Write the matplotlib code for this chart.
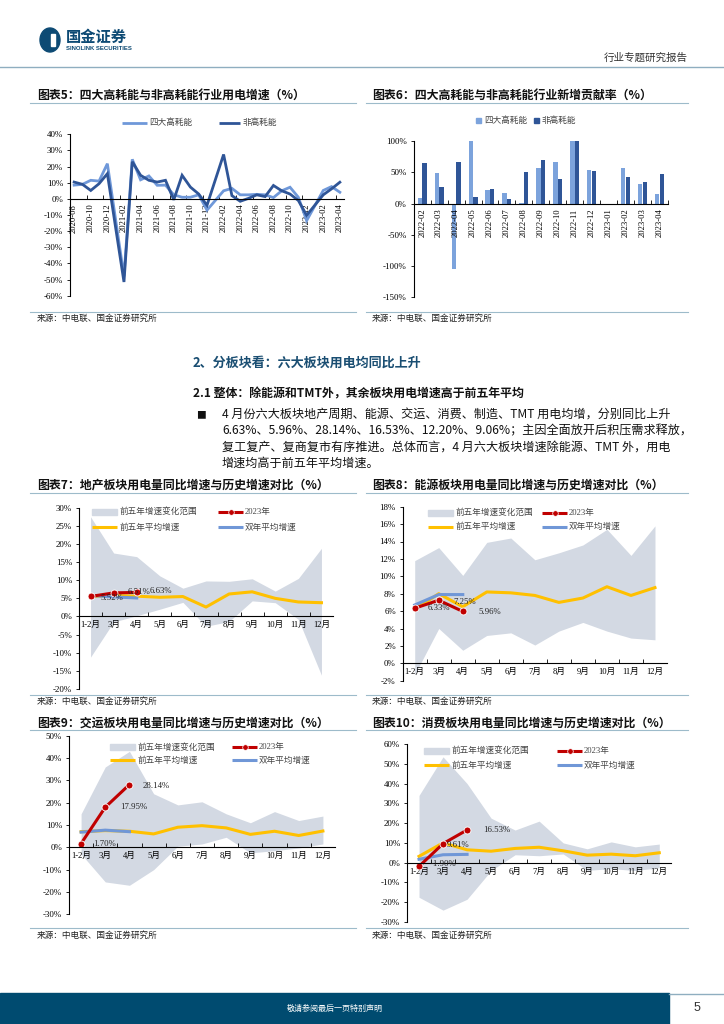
import matplotlib.pyplot as plt
import numpy as np
import pandas as pd
from matplotlib.lines import Line2D
from matplotlib.patches import Rectangle, Ellipse

plt.rcParams['font.family'] = ['Liberation Serif', 'Noto Sans CJK SC']
plt.rcParams['axes.unicode_minus'] = False
CJK = ['Noto Sans CJK SC', 'DejaVu Sans']

nan = np.nan

# ---------------- data ----------------
# 图表5: monthly growth (%), 2020-08 .. 2023-04 (Jan merged into Feb -> blank)
months5 = list(pd.period_range('2020-08', '2023-04', freq='M').strftime('%Y-%m'))
high5 = [8.5, 9.0, 11.5, 11.0, 21.8, nan, -48.0, 24.5, 11.8, 14.2, 8.4, 8.5, 2.5, 1.0, 1.0, 2.5, -7.0,
         nan, 5.0, 6.5, 2.5, 2.5, 2.8, 2.5, 0.8, 5.0, 7.2, 1.0, -13.5, nan, 5.2, 7.6, 4.1]
non5 = [10.4, 9.0, 5.2, 9.4, 15.6, nan, -51.5, 23.0, 14.6, 11.5, 10.4, 11.5, -0.6, 14.6, 7.3, 3.0, -4.0,
        nan, 27.5, 2.0, -1.5, 0.3, 2.5, 1.4, 8.3, 5.0, 3.0, -1.0, -10.2, nan, 2.5, 6.2, 10.3]

# 图表6: contribution rate (%)
cats6 = ['2022-02', '2022-03', '2022-04', '2022-05', '2022-06', '2022-07', '2022-08', '2022-09',
         '2022-10', '2022-11', '2022-12', '2023-01', '2023-02', '2023-03', '2023-04']
high6 = [9, 49, -105, 100, 22, 17, 1, 58, 67, 100, 54, nan, 58, 31, 16]
non6 = [65, 26, 67, 11, 23, 7.5, 50, 70, 40, 100, 52, nan, 42, 35, 48]

months = ['1-2月', '3月', '4月', '5月', '6月', '7月', '8月', '9月', '10月', '11月', '12月']

# 图表7 地产
hi7 = [27.5, 17.5, 16.5, 11.2, 7.8, 9.8, 9.7, 10.4, 7.0, 10.5, 18.8]
lo7 = [-11.2, -1.5, 0.2, 2.0, 3.9, -2.7, -1.4, 4.3, 3.8, -0.8, -16.2]
avg7 = [5.5, 5.8, 5.6, 5.3, 5.5, 2.6, 6.2, 6.8, 5.0, 4.0, 3.8]
cur7 = [5.52, 6.51, 6.63]
two7 = [5.8, 5.4, 5.1]

# 图表8 能源
hi8 = [11.8, 13.3, 10.1, 13.9, 14.4, 11.9, 12.7, 13.6, 15.4, 12.4, 15.8]
lo8 = [-1.3, 4.0, 1.5, 3.2, 3.5, 2.1, 3.7, 4.7, 3.7, 2.9, 2.7]
avg8 = [6.2, 8.0, 6.5, 8.2, 8.1, 7.8, 7.0, 7.5, 8.8, 7.8, 8.7]
cur8 = [6.33, 7.25, 5.96]
two8 = [6.7, 7.9, 7.9]

# 图表9 交运
hi9 = [15, 36, 43, 24, 19, 20.4, 15, 11, 16, 12, 14]
lo9 = [-3, -15.5, -17, -10, 0.5, 1.5, 4.5, -2.5, -1.5, -0.3, 1.5]
avg9 = [7.0, 7.5, 7.2, 6.0, 9.0, 9.7, 8.7, 5.8, 7.2, 5.3, 7.3]
cur9 = [1.70, 17.95, 28.14]
two9 = [6.8, 7.7, 7.0]

# 图表10 消费
hi10 = [34, 53.5, 40, 22.5, 16.5, 21, 10, 7, 10.5, 8, 9.4]
lo10 = [-17.5, -24, -18.5, -4, 4, 3.5, 4.4, -3.9, -3, -4, -2.5]
avg10 = [3.2, 10.0, 6.5, 5.8, 7.2, 7.8, 6.0, 3.8, 4.3, 3.5, 5.0]
cur10 = [-1.90, 9.61, 16.53]
two10 = [1.7, 4.0, 4.2]

# ---------------- figure ----------------
W, H = 724, 1024
fig = plt.figure(figsize=(7.24, 10.24), dpi=100)

NAVY = '#0D4A74'
RULE = '#9DBBCA'
LIGHT = '#6F98D9'
DARK = '#2F5597'
BAND = '#D3D9E3'
YEL = '#FFC000'
RED = '#C00000'
BLUE2 = '#7097D7'


def fx(x):
    return x / W


def fy(y):
    return 1 - y / H


def add_ax(l, t, r, b):
    return fig.add_axes([fx(l), fy(b), (r - l) / W, (b - t) / H])


def txt(x, y, s, **kw):
    kw.setdefault('family', CJK)
    kw.setdefault('va', 'center')
    fig.text(fx(x), fy(y), s, **kw)


def hline(x0, x1, y, color=RULE, lw=0.8):
    fig.add_artist(Line2D([fx(x0), fx(x1)], [fy(y), fy(y)], color=color, lw=lw))


def leg_line(x0, x1, y, color, lw=2.2, marker=False):
    fig.add_artist(Line2D([fx(x0), fx(x1)], [fy(y), fy(y)], color=color, lw=lw, solid_capstyle='butt'))
    if marker:
        fig.add_artist(Line2D([fx((x0 + x1) / 2)], [fy(y)], marker='o', ms=4, color=color,
                              mec='white', mew=0.5))


def leg_box(x0, x1, y, h, color):
    fig.add_artist(Rectangle((fx(x0), fy(y + h / 2)), (x1 - x0) / W, h / H, color=color,
                             transform=fig.transFigure))


def style_axis(ax, ylo, yhi, step):
    ax.set_ylim(ylo, yhi)
    ax.set_yticks(np.arange(ylo, yhi + step / 2, step))
    ax.yaxis.set_major_formatter(lambda v, p: f'{v:.0f}%')
    for s in ['top', 'right']:
        ax.spines[s].set_visible(False)
    ax.spines['bottom'].set_position(('data', 0))
    ax.spines['left'].set_linewidth(0.8)
    ax.spines['bottom'].set_linewidth(0.8)
    ax.tick_params(axis='y', labelsize=6.4, length=2.5, width=0.6, pad=2.5)
    ax.tick_params(axis='x', which='major', length=0, labelsize=6.2, pad=3.5)
    ax.tick_params(axis='x', which='minor', length=3, width=0.6, direction='in')
    ax.patch.set_alpha(0)


# ---------------- header / footer ----------------
fig.add_artist(Ellipse((fx(50), fy(40)), 20 / W, 24 / H, color=NAVY, transform=fig.transFigure))
fig.add_artist(Rectangle((fx(51), fy(46)), 4 / W, 12 / H, color='white', transform=fig.transFigure))
txt(66, 37, '国金证券', fontsize=11, weight='bold', color=NAVY)
txt(66, 48, 'SINOLINK SECURITIES', fontsize=4.3, weight='bold', color=NAVY, family='Liberation Sans')
txt(688, 58, '行业专题研究报告', fontsize=7.6, color='#333333', ha='right')
hline(0, 724, 67, color='#8FAEC0', lw=1)

fig.add_artist(Rectangle((0, 0), fx(669), 31 / H, color='#004B70', transform=fig.transFigure))
hline(669, 724, 993.5, color='#8FAEC0', lw=1)
txt(335, 1008, '敬请参阅最后一页特别声明', fontsize=5.8, color='white', ha='center')
txt(697, 1008, '5', fontsize=9, color='#333333', ha='center', family='Liberation Sans')

# ---------------- titles / sources ----------------
titles = [(37, 95, '图表5：四大高耗能与非高耗能行业用电增速（%）'),
          (372, 95, '图表6：四大高耗能与非高耗能行业新增贡献率（%）'),
          (37, 485, '图表7：地产板块用电量同比增速与历史增速对比（%）'),
          (372, 485, '图表8：能源板块用电量同比增速与历史增速对比（%）'),
          (37, 723, '图表9：交运板块用电量同比增速与历史增速对比（%）'),
          (372, 723, '图表10：消费板块用电量同比增速与历史增速对比（%）')]
for x, y, s in titles:
    txt(x, y, s, fontsize=8.6, weight='bold', color='#111111')
for y in [103, 493, 730]:
    hline(30, 356, y)
    hline(366, 688, y)
for ly, ty in [(312, 318), (695, 701), (928, 935)]:
    hline(30, 356, ly)
    hline(366, 688, ly)
    txt(37, ty, '来源：中电联、国金证券研究所', fontsize=6.2, color='#222222')
    txt(372, ty, '来源：中电联、国金证券研究所', fontsize=6.2, color='#222222')

# ---------------- body text ----------------
txt(193, 363, '2、分板块看：六大板块用电均同比上升', fontsize=9.4, weight='bold', color='#1A4E72')
txt(193, 394, '2.1 整体：除能源和TMT外，其余板块用电增速高于前五年平均', fontsize=8.6, weight='bold',
    color='#111111')
txt(196, 415, '■', fontsize=7, color='#111111')
para = ['4 月份六大板块地产周期、能源、交运、消费、制造、TMT 用电均增，分别同比上升',
        '6.63%、5.96%、28.14%、16.53%、12.20%、9.06%；主因全面放开后积压需求释放，',
        '复工复产、复商复市有序推进。总体而言，4 月六大板块增速除能源、TMT 外，用电',
        '增速均高于前五年平均增速。']
for i, line in enumerate(para):
    txt(222, 415 + 16 * i, line, fontsize=8.7, color='#111111')

# ---------------- 图表5 ----------------
ax5 = add_ax(70, 134.3, 344, 295.7)
x5 = np.arange(len(months5))
for vals, col in [(high5, LIGHT), (non5, DARK)]:
    v = np.array(vals)
    m = ~np.isnan(v)
    ax5.plot(x5[m], v[m], color=col, lw=2.0, solid_joinstyle='miter')
ax5.set_xlim(-0.5, len(months5) - 0.5)
style_axis(ax5, -60, 40, 10)
ax5.set_xticks(x5[::2])
ax5.set_xticklabels(months5[::2], rotation=90)
ax5.set_xticks(np.arange(1.5, len(months5), 2), minor=True)
leg_line(121.7, 146.7, 122.7, LIGHT, lw=2.0)
txt(149.3, 122.7, '四大高耗能', fontsize=6.2, color='#444444')
leg_line(219, 240, 122.7, DARK, lw=2.0)
txt(242.7, 122.7, '非高耗能', fontsize=6.2, color='#444444')

# ---------------- 图表6 ----------------
ax6 = add_ax(413.7, 141.3, 668, 297.3)
x6 = np.arange(len(cats6))
ax6.bar(x6 - 0.14, high6, 0.25, color='#7CA3DC')
ax6.bar(x6 + 0.14, non6, 0.25, color=DARK)
ax6.set_xlim(-0.5, len(cats6) - 0.5)
style_axis(ax6, -150, 100, 50)
ax6.set_xticks(x6)
ax6.set_xticklabels(cats6, rotation=90)
ax6.set_xticks(np.arange(0.5, len(cats6), 1), minor=True)
leg_box(476, 481, 120.7, 5, '#7CA3DC')
txt(484, 120.7, '四大高耗能', fontsize=6.2, color='#444444')
leg_box(534, 539, 120.7, 5, DARK)
txt(542, 120.7, '非高耗能', fontsize=6.2, color='#444444')


# ---------------- band charts ----------------
def band_chart(box, ylim, step, hi, lo, avg, cur, two, offs, leg):
    ax = add_ax(*box)
    x = np.arange(len(months))
    ax.fill_between(x, lo, hi, color=BAND, lw=0)
    ax.plot(x, avg, color=YEL, lw=2.2)
    ax.plot(x[:len(two)], two, color=BLUE2, lw=2.2)
    ax.plot(x[:len(cur)], cur, color=RED, lw=2.2, marker='o', ms=5, mfc=RED, mec='white', mew=0.6)
    for xi, v, (dx, dy) in zip(x, cur, offs):
        ax.annotate(f'{v:.2f}%', (xi, v), xytext=(dx, dy), textcoords='offset pixels',
                    fontsize=6.3, ha='left', va='center', color='#222222')
    ax.set_xlim(-0.5, len(months) - 0.5)
    style_axis(ax, ylim[0], ylim[1], step)
    ax.set_xticks(x)
    ax.set_xticklabels(months)
    ax.set_xticks(np.arange(0.5, len(months) - 1, 1), minor=True)
    # legend
    lx, rx, y1, y2 = leg
    leg_box(lx, lx + 25, y1, 6, BAND)
    txt(lx + 28, y1, '前五年增速变化范围', fontsize=6.2, color='#444444')
    leg_line(rx, rx + 25, y1, RED, marker=True)
    txt(rx + 27, y1, '2023年', fontsize=6.2, color='#444444', family=['Liberation Serif', 'Noto Sans CJK SC'])
    leg_line(lx, lx + 25, y2, YEL)
    txt(lx + 28, y2, '前五年平均增速', fontsize=6.2, color='#444444')
    leg_line(rx, rx + 25, y2, BLUE2)
    txt(rx + 27, y2, '双年平均增速', fontsize=6.2, color='#444444')


band_chart((79, 507.7, 333, 689), (-20, 30), 5, hi7, lo7, avg7, cur7, two7,
           [(10, -2), (14, 1), (13, 1)], (92, 218, 511.7, 527.3))
band_chart((402.7, 506.7, 667, 680.7), (-2, 18), 2, hi8, lo8, avg8, cur8, two8,
           [(13, 0), (15, -1.5), (16, -1)], (428, 542, 512.7, 526.7))
band_chart((69, 735.7, 335, 914.3), (-30, 50), 10, hi9, lo9, avg9, cur9, two9,
           [(12, 0), (15, 0), (13, -1)], (110, 232, 747.3, 760))
band_chart((407, 744, 671.3, 922), (-30, 60), 10, hi10, lo10, avg10, cur10, two10,
           [(12, 2), (4, -1), (16, 0)], (424, 557, 750.7, 765))

fig.savefig('out.png', dpi=100)
